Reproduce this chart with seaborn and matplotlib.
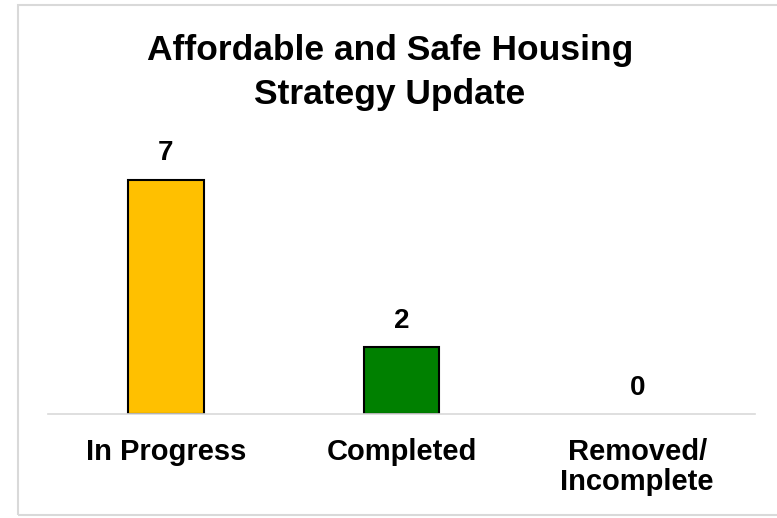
import matplotlib
matplotlib.use("Agg")
import matplotlib.pyplot as plt
import seaborn as sns
import pandas as pd

categories = ["In Progress", "Completed", "Removed/\nIncomplete"]
counts = [7, 2, 0]
bar_colors = ["#FFC000", "#008000", "#7F7F7F"]

sns.set_theme(style="white")
plt.rcParams["font.family"] = ["Liberation Sans", "DejaVu Sans"]
plt.rcParams["text.color"] = "black"
plt.rcParams["xtick.color"] = "black"

df = pd.DataFrame({"status": categories, "count": counts})

fig = plt.figure(figsize=(7.77, 5.18), dpi=100)
ax = fig.add_axes([48 / 777, 104 / 518, 707 / 777, 268 / 518])

sns.barplot(data=df, x="status", y="count", hue="status", palette=bar_colors,
            saturation=1, width=0.32, edgecolor="black", linewidth=1.5,
            legend=False, ax=ax)

# empty categories get no outline sitting on the axis line
for patch, v in zip(ax.patches, counts):
    if v == 0:
        patch.set_linewidth(0)
        patch.set_facecolor("none")

ax.set_ylim(0, 8)
ax.set_xlim(-0.5, 2.5)
ax.set_xlabel("")
ax.set_ylabel("")
ax.set_yticks([])
for side in ["top", "right", "left"]:
    ax.spines[side].set_visible(False)
ax.spines["bottom"].set_color("#D9D9D9")
ax.spines["bottom"].set_linewidth(1.2)
ax.tick_params(axis="x", length=0, pad=17)
for lbl in ax.get_xticklabels():
    lbl.set_fontsize(21)
    lbl.set_fontweight("bold")
    lbl.set_color("black")
    lbl.set_verticalalignment("top")
    lbl.set_linespacing(1.1)

for i, v in enumerate(counts):
    ax.annotate(str(v), (i, v), xytext=(0, 9.5), textcoords="offset points",
                ha="center", va="bottom", fontsize=20, fontweight="bold",
                color="black")

fig.text(0.502, 0.860, "Affordable and Safe Housing\nStrategy Update",
         ha="center", va="center", fontsize=25.5, fontweight="bold",
         linespacing=1.45, color="black")

# light frame around the whole chart area
frame = plt.Rectangle((18 / 777, 3 / 518), 1.0, 510 / 518, transform=fig.transFigure,
                      fill=False, edgecolor="#D9D9D9", linewidth=1.5)
fig.add_artist(frame)

fig.savefig("out.png", dpi=100, facecolor="white")
